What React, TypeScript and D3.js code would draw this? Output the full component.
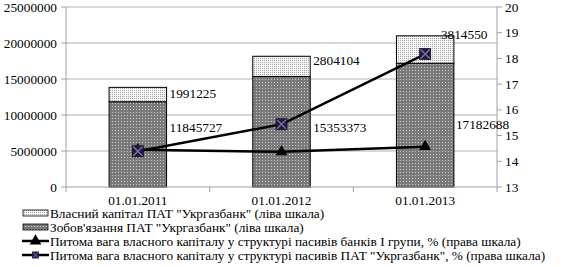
import React from "react";
import * as d3 from "d3";

const categories = ["01.01.2011", "01.01.2012", "01.01.2013"];
const equity = [1991225, 2804104, 3814550];
const liabilities = [11845727, 15353373, 17182688];
const banksGroupShare = [14.45, 14.37, 14.57];
const ukrgasShare = [14.39, 15.44, 18.17];
const leftTicks = [0, 5000000, 10000000, 15000000, 20000000, 25000000];
const rightTicks = [13, 14, 15, 16, 17, 18, 19, 20];
const legendLabels = [
  "Власний капітал ПАТ \"Укргазбанк\" (ліва шкала)",
  "Зобов'язання ПАТ \"Укргазбанк\" (ліва шкала)",
  "Питома вага власного капіталу у структурі  пасивів банків І групи, % (права шкала)",
  "Питома вага власного капіталу у структурі  пасивів ПАТ \"Укргазбанк\", % (права шкала)",
];

// layout constants (label offsets relative to bar positions)
const equityLabelOffsets = [
  [3, 6],
  [3, 4],
  [-13, -1],
];
const liabLabelOffsets = [
  [3, 0],
  [3, 0],
  [2, -3],
];

const W = 571;
const H = 267;
const M = { left: 66, right: 497, top: 7, bottom: 187 };
const FONT = "Liberation Serif";
const FS = 13.3;

export default function App() {
  const x = d3
    .scaleBand<string>()
    .domain(categories)
    .range([M.left, M.right])
    .paddingInner(0.6)
    .paddingOuter(0.3);
  const yL = d3.scaleLinear().domain([0, 25000000]).range([M.bottom, M.top]);
  const yR = d3.scaleLinear().domain([13, 20]).range([M.bottom, M.top]);
  const cx = (c: string) => (x(c) as number) + x.bandwidth() / 2;

  const lineGen = d3
    .line<number>()
    .x((_, i) => cx(categories[i]))
    .y((d) => yR(d));

  const step = x.step();
  const sepTicks = [0, 1, 2, 3].map((i) => M.left + i * step);

  const tri = d3.symbol().type(d3.symbolTriangle).size(60)() as string;

  const marker = (px: number, py: number, key: string) => (
    <g key={key} transform={`translate(${px},${py})`}>
      <rect x={-5.5} y={-5.5} width={11} height={11} fill="#231a3c" stroke="#1a1230" strokeWidth={0.8} />
      <path d="M-4.5,-4.5L4.5,4.5M-4.5,4.5L4.5,-4.5" stroke="#8070b0" strokeWidth={1.3} />
    </g>
  );

  const ts: React.CSSProperties = { fontFamily: FONT, fontSize: FS };

  return (
    <svg
      width={W}
      height={H}
      style={{ position: "absolute", left: 0, top: 0, background: "#fff", fontFamily: FONT }}
    >
      <defs>
        <pattern id="patLiab" width={3} height={3} patternUnits="userSpaceOnUse">
          <rect width={3} height={3} fill="#7a7a7a" />
          <rect x={1} y={1} width={1} height={1} fill="#c8c8c8" />
        </pattern>
        <pattern id="patEq" width={2} height={2} patternUnits="userSpaceOnUse">
          <rect width={2} height={2} fill="#f4f4f4" />
          <rect x={0} y={0} width={1} height={1} fill="#a8a8a8" />
        </pattern>
      </defs>
      <rect width={W} height={H} fill="#fff" />

      {/* gridlines + left ticks */}
      {leftTicks.map((t) => (
        <g key={`g${t}`}>
          {t > 0 && (
            <line x1={M.left} x2={M.right} y1={yL(t)} y2={yL(t)} stroke="#b0b0b0" strokeWidth={1} />
          )}
          <line x1={M.left - 5} x2={M.left} y1={yL(t)} y2={yL(t)} stroke="#a0a0a0" strokeWidth={1} />
          <text x={57} y={yL(t) + 4.5} textAnchor="end" style={ts} fill="#000">
            {t}
          </text>
        </g>
      ))}
      <line x1={M.left} x2={M.left} y1={M.top} y2={M.bottom} stroke="#a0a0a0" />
      <line x1={M.right} x2={M.right} y1={M.top} y2={M.bottom} stroke="#a0a0a0" />
      {rightTicks.map((t) => (
        <g key={`r${t}`}>
          <line x1={M.right} x2={M.right + 5} y1={yR(t)} y2={yR(t)} stroke="#a0a0a0" />
          <text x={505} y={yR(t) + 4.5} style={ts} fill="#000">
            {t}
          </text>
        </g>
      ))}

      {/* bars */}
      {categories.map((c, i) => {
        const bx = x(c) as number;
        const bw = x.bandwidth();
        return (
          <g key={`b${c}`}>
            <rect
              x={bx}
              y={yL(liabilities[i])}
              width={bw}
              height={yL(0) - yL(liabilities[i])}
              fill="url(#patLiab)"
              stroke="#000"
              strokeWidth={1}
            />
            <rect
              x={bx}
              y={yL(liabilities[i] + equity[i])}
              width={bw}
              height={yL(liabilities[i]) - yL(liabilities[i] + equity[i])}
              fill="url(#patEq)"
              stroke="#000"
              strokeWidth={1}
            />
          </g>
        );
      })}

      {/* x axis */}
      <line x1={M.left} x2={M.right} y1={M.bottom} y2={M.bottom} stroke="#a0a0a0" />
      {sepTicks.map((tx, i) => (
        <line key={`s${i}`} x1={tx} x2={tx} y1={M.bottom} y2={M.bottom + 5} stroke="#a0a0a0" />
      ))}
      {categories.map((c) => (
        <text key={`x${c}`} x={cx(c)} y={205} textAnchor="middle" style={ts}>
          {c}
        </text>
      ))}

      {/* lines */}
      <path d={lineGen(banksGroupShare) as string} fill="none" stroke="#000" strokeWidth={2.5} />
      <path d={lineGen(ukrgasShare) as string} fill="none" stroke="#000" strokeWidth={2.5} />
      {banksGroupShare.map((v, i) => (
        <path key={`t${i}`} d={tri} transform={`translate(${cx(categories[i])},${yR(v)})`} fill="#000" />
      ))}
      {ukrgasShare.map((v, i) => marker(cx(categories[i]), yR(v), `m${i}`))}

      {/* data labels */}
      {categories.map((c, i) => {
        const right = (x(c) as number) + x.bandwidth();
        return (
          <g key={`l${c}`}>
            <text
              x={right + equityLabelOffsets[i][0]}
              y={yL(liabilities[i] + equity[i]) + 4.5 + equityLabelOffsets[i][1]}
              style={ts}
            >
              {equity[i]}
            </text>
            <text x={right + liabLabelOffsets[i][0]} y={yL(8300000) + 4.5 + liabLabelOffsets[i][1]} style={ts}>
              {liabilities[i]}
            </text>
          </g>
        );
      })}

      {/* legend */}
      {legendLabels.map((lbl, i) => {
        const cy = 213 + i * 14;
        return (
          <g key={`lg${i}`}>
            {i === 0 && <rect x={23} y={cy - 3} width={25} height={6} fill="url(#patEq)" stroke="#000" strokeWidth={0.8} />}
            {i === 1 && <rect x={23} y={cy - 3} width={25} height={6} fill="url(#patLiab)" stroke="#000" strokeWidth={0.8} />}
            {i === 2 && (
              <g>
                <line x1={22} x2={49} y1={cy} y2={cy} stroke="#000" strokeWidth={2.5} />
                <path d={tri} transform={`translate(35.5,${cy})`} fill="#000" />
              </g>
            )}
            {i === 3 && (
              <g>
                <line x1={22} x2={49} y1={cy} y2={cy} stroke="#000" strokeWidth={2.5} />
                <g transform={`translate(35.5,${cy}) scale(0.7)`}>
                  <rect x={-5} y={-5} width={10} height={10} fill="#231a3c" />
                  <path d="M-4,-4L4,4M-4,4L4,-4" stroke="#8070b0" strokeWidth={1.3} />
                </g>
              </g>
            )}
            <text x={50} y={cy + 4.5} style={ts}>
              {lbl}
            </text>
          </g>
        );
      })}
    </svg>
  );
}
